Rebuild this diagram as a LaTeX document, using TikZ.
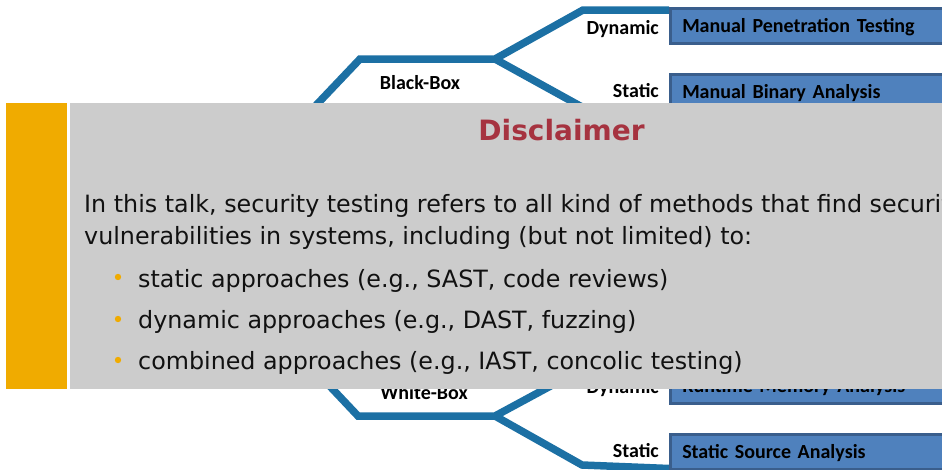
\documentclass[tikz,border=0pt]{standalone}
\usepackage{fontspec}
\setmainfont{DejaVu Sans}
\newfontfamily\labelfont{Carlito}
\usetikzlibrary{calc,backgrounds}

\definecolor{branchblue}{HTML}{1C70A4}
\definecolor{boxfill}{HTML}{4F81BD}
\definecolor{boxedge}{HTML}{3A5E8C}
\definecolor{accent}{HTML}{F0AB00}
\definecolor{panel}{HTML}{CCCCCC}
\definecolor{titlered}{HTML}{A63340}
\definecolor{bodytext}{HTML}{111111}

\tikzset{
  branch/.style={draw=branchblue, line width=7.5pt, line join=miter, line cap=butt},
  leafbox/.style={draw=boxedge, fill=boxfill, line width=2.5pt, anchor=north west,
    text width=276pt, inner xsep=12pt, inner ysep=0pt, minimum height=35pt,
    text height=13pt, text depth=0pt, align=left,
    font=\labelfont\bfseries\fontsize{20}{24}\selectfont, text=black},
  kind/.style={anchor=base east, inner sep=0pt,
    font=\labelfont\bfseries\fontsize{20}{24}\selectfont, text=black},
  side/.style={anchor=base, inner sep=0pt,
    font=\labelfont\bfseries\fontsize{20}{24}\selectfont, text=black},
  bodyline/.style={anchor=base west, inner sep=0pt, text=bodytext,
    font=\fontsize{23.8}{28}\selectfont},
  dot/.style={circle, fill=accent, inner sep=0pt, minimum size=6.4pt}
}

\begin{document}
\begin{tikzpicture}[x=1pt, y=-1pt]
\useasboundingbox (0,0) rectangle (942,469);

% corner points of the classification tree
\coordinate (root) at (190,238);
\coordinate (bbL) at (360,59);
\coordinate (bbJ) at (495,59);
\coordinate (bbDyn) at (583,10);
\coordinate (bbSta) at (582,107);
\coordinate (wbL) at (358,416);
\coordinate (wbJ) at (495,416);
\coordinate (wbDyn) at (582,369);
\coordinate (wbSta) at (582,465);

% leaf boxes (they run off the right edge)
\node[leafbox] (mpt) at (669,7) {Manual Penetration Testing};
\node[leafbox] (mba) at (669,73) {Manual Binary Analysis};
\node[leafbox] (rma) at (669,367) {Runtime Memory Analysis};
\node[leafbox] (ssa) at (669,433) {Static Source Analysis};

% branches, kept underneath the boxes
\begin{pgfonlayer}{background}
\draw[branch] (root) -- (bbL) -- (bbJ) -- (bbDyn) -- ($(mpt.north west)+(0,3)$);
\draw[branch] (bbJ) -- (bbSta) -- ($(mba.south west)+(0,-1.5)$);
\draw[branch] (root) -- (wbL) -- (wbJ) -- (wbDyn) -- ($(rma.north west)+(0,2.5)$);
\draw[branch] (wbJ) -- (wbSta) -- ($(ssa.south west)+(0,-2)$);
\end{pgfonlayer}

% branch labels
\node[side] (lblBB) at (420,89) {Black-Box};
\node[side] (lblWB) at (424,399) {White-Box};
\node[kind] (lblD1) at (659,34) {Dynamic};
\node[kind] (lblS1) at (659,97) {Static};
\node[kind] (lblD2) at (659,393) {Dynamic};
\node[kind] (lblS2) at (659,457) {Static};

% disclaimer panel
\fill[accent] (6,103) rectangle (67,389);
\fill[panel] (70,103) rectangle (1000,389);

\node[anchor=base, inner sep=0pt, text=titlered,
  font=\bfseries\fontsize{28}{34}\selectfont] (title) at (561.5,140) {Disclaimer};

\node[bodyline] (l1) at (84,212) {In this talk, security testing refers to all kind of methods that find security};
\node[bodyline] (l2) at (84,244) {vulnerabilities in systems, including (but not limited) to:};

\node[dot] (d1) at (118,277) {};
\node[dot] (d2) at (118,319) {};
\node[dot] (d3) at (118,360) {};
\node[bodyline] (i1) at (138,287) {static approaches (e.g., SAST, code reviews)};
\node[bodyline] (i2) at (138,328) {dynamic approaches (e.g., DAST, fuzzing)};
\node[bodyline] (i3) at (138,369) {combined approaches (e.g., IAST, concolic testing)};
\end{tikzpicture}
\end{document}
